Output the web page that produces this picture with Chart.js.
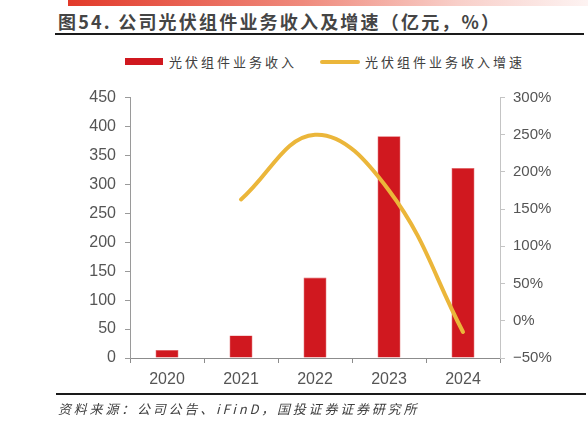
<!DOCTYPE html>
<html>
<head>
<meta charset="utf-8">
<script src="https://cdn.jsdelivr.net/npm/chart.js@4.4.1/dist/chart.umd.min.js"></script>
<style>
    body { margin: 0; background: #fff; }
    #wrap { position: relative; width: 588px; height: 423px; overflow: hidden; }
    #chart { position: absolute; left: 0; top: 0; }
    .topbar { position: absolute; left: 68px; top: 0; width: 520px; height: 6px;
        background: linear-gradient(to right, #e23a2a, #ef8a7c 45%, #f8cfc9 75%, #fdf3f2); }
    .title { position: absolute; left: 58px; top: 10px; font: bold 18px "Noto Sans CJK SC", sans-serif;
        color: #454545; letter-spacing: 2.2px; white-space: nowrap; line-height: 22px; }
    .rule { position: absolute; height: 2px; background: #1a1a1a; }
    .legend { position: absolute; top: 54px; font: 13px "Noto Sans CJK SC", sans-serif; color: #404040;
        letter-spacing: 3px; white-space: nowrap; line-height: 16px; }
    .swatch { position: absolute; }
    .source { position: absolute; left: 58px; top: 401px; font: italic 13px "Noto Sans CJK SC", sans-serif;
        color: #404040; letter-spacing: 2.8px; white-space: nowrap; line-height: 16px; }
</style>
</head>
<body>
<div id="wrap">
    <div class="topbar"></div>
    <div class="title">图54. 公司光伏组件业务收入及增速（亿元，%）</div>
    <div class="rule" style="left:55px; top:33px; width:529px;"></div>
    <div id="legendBox"></div>
    <canvas id="chart" width="588" height="423"></canvas>
    <div class="rule" style="left:56px; top:393px; width:530px;"></div>
    <div class="source">资料来源：公司公告、iFinD，国投证券证券研究所</div>
</div>
<script>
// chart data
var years = ["2020", "2021", "2022", "2023", "2024"];
var revenue = [14, 39, 139, 383, 328];          // 亿元
var growth = [null, 163, 250, 175, -15];         // %
var seriesNames = ["光伏组件业务收入", "光伏组件业务收入增速"];
var leftTicks = [0, 50, 100, 150, 200, 250, 300, 350, 400, 450];
var rightTicks = [-50, 0, 50, 100, 150, 200, 250, 300];

var red = "#d0181f";
var gold = "#ebb63a";

// legend as plain html so the letter spacing matches
function buildLegend() {
    var box = document.getElementById("legendBox");
    var html = "";
    html += '<div class="swatch" style="left:125px; top:58px; width:38px; height:7px; background:' + red + ';"></div>';
    html += '<div class="legend" style="left:169px;">' + seriesNames[0] + '</div>';
    html += '<div class="swatch" style="left:320px; top:60px; width:40px; height:4px; border-radius:2px; background:' + gold + ';"></div>';
    html += '<div class="legend" style="left:365px;">' + seriesNames[1] + '</div>';
    box.innerHTML = html;
}
buildLegend();

var tickFont = { family: "'Liberation Sans', Arial, sans-serif", size: 16 };

new Chart("chart", {
    type: "bar",
    data: {
        labels: years,
        datasets: [{
            type: "line",
            label: seriesNames[1],
            data: growth,
            yAxisID: "y1",
            borderColor: gold,
            borderWidth: 4,
            borderCapStyle: "round",
            tension: 0.4,
            pointRadius: 0,
            spanGaps: false,
            order: 0
        }, {
            type: "bar",
            label: seriesNames[0],
            data: revenue,
            yAxisID: "y",
            backgroundColor: red,
            borderColor: "#e05a5e",
            borderWidth: 0.6,
            barPercentage: 0.31,
            categoryPercentage: 1,
            order: 1
        }]
    },
    options: {
        responsive: false,
        animation: false,
        layout: { padding: { top: 97.5, left: 0, right: 0, bottom: 0 } },
        plugins: {
            legend: { display: false },
            title: { display: false },
            tooltip: { enabled: false }
        },
        scales: {
            x: {
                offset: true,
                grid: { offset: true, drawOnChartArea: false, tickLength: 5, color: "#8c8c8c" },
                border: { color: "#8c8c8c" },
                ticks: { color: "#555555", font: tickFont, padding: 7, maxRotation: 0 },
                afterFit: function (scale) { scale.height = 65; }
            },
            y: {
                position: "left",
                min: 0,
                max: 450,
                afterBuildTicks: function (scale) {
                    scale.ticks = leftTicks.map(function (v) { return { value: v }; });
                },
                grid: { drawOnChartArea: false, tickLength: 5, color: "#9a9a9a" },
                border: { color: "#9a9a9a" },
                ticks: { color: "#555555", font: tickFont, padding: 9 },
                afterFit: function (scale) { scale.width = 130; }
            },
            y1: {
                position: "right",
                min: -50,
                max: 300,
                afterBuildTicks: function (scale) {
                    scale.ticks = rightTicks.map(function (v) { return { value: v }; });
                },
                grid: { drawOnChartArea: false, tickLength: 5, color: "#c4c4c4" },
                border: { color: "#c4c4c4" },
                ticks: {
                    color: "#555555",
                    font: { family: "'Liberation Sans', Arial, sans-serif", size: 15 },
                    padding: 8,
                    callback: function (v) { return (v < 0 ? "\u2212" + Math.abs(v) : v) + "%"; }
                },
                afterFit: function (scale) { scale.width = 88; }
            }
        }
    }
});
</script>
</body>
</html>
